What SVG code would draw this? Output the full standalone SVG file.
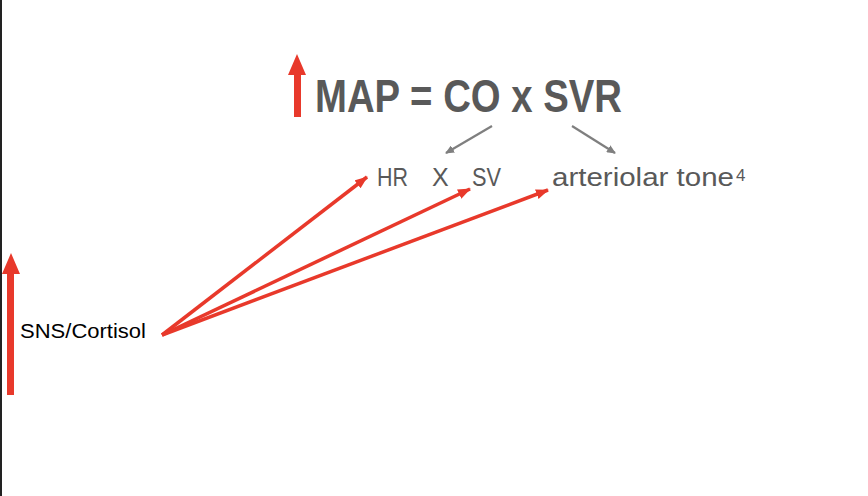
<svg xmlns="http://www.w3.org/2000/svg" width="868" height="496" viewBox="0 0 868 496">
<style>
.gray{font-family:"Liberation Sans",Arial,sans-serif;fill:#595959}
.red{stroke:#e8392b;stroke-width:3.5;fill:none}
.gl{stroke:#7f7f7f;stroke-width:2.2;fill:none}
</style>
<defs>
<marker id="rh" markerWidth="13" markerHeight="10" refX="12" refY="5" orient="auto" markerUnits="userSpaceOnUse"><path d="M0,0 L13,5 L0,10 Z" fill="#e8392b"/></marker>
<marker id="gh" markerWidth="9" markerHeight="8" refX="8" refY="4" orient="auto" markerUnits="userSpaceOnUse"><path d="M0,0 L9,4 L0,8 Z" fill="#7f7f7f"/></marker>
</defs>
<rect width="868" height="496" fill="#fff"/>
<rect x="0" y="0" width="2" height="496" fill="#222"/>
<g id="up-arrow-left"><path d="M7,395 V274 H2 L11,253 L20,274 H14 V395 Z" fill="#e8392b"/></g>
<g id="up-arrow-top"><path d="M294,117 V75 H288 L297,54 L306,75 H301 V117 Z" fill="#e8392b"/></g>
<g id="map"><text class="gray" x="315" y="112" font-size="46" font-weight="bold" textLength="307" lengthAdjust="spacingAndGlyphs">MAP = CO x SVR</text></g>
<g id="hr"><text class="gray" x="377" y="186" font-size="25" textLength="31" lengthAdjust="spacingAndGlyphs">HR</text></g>
<g id="x"><text class="gray" x="432" y="186" font-size="25">X</text></g>
<g id="sv"><text class="gray" x="472" y="186" font-size="25" textLength="29" lengthAdjust="spacingAndGlyphs">SV</text></g>
<g id="tone"><text class="gray" x="552" y="186" font-size="25" textLength="182" lengthAdjust="spacingAndGlyphs">arteriolar tone</text><text class="gray" x="736" y="181" font-size="17">4</text></g>
<g id="sns"><text x="20" y="338" font-family="Liberation Sans,Arial,sans-serif" font-size="20" fill="#000" textLength="126" lengthAdjust="spacingAndGlyphs">SNS/Cortisol</text></g>
<g id="connectors">
<line class="gl" x1="492" y1="126" x2="446" y2="153" marker-end="url(#gh)"/>
<line class="gl" x1="572" y1="126" x2="615" y2="153" marker-end="url(#gh)"/>
<line class="red" x1="162" y1="335" x2="367" y2="177" marker-end="url(#rh)"/>
<line class="red" x1="162" y1="335" x2="470" y2="189" marker-end="url(#rh)"/>
<line class="red" x1="162" y1="335" x2="548" y2="190" marker-end="url(#rh)"/>
</g>
</svg>
